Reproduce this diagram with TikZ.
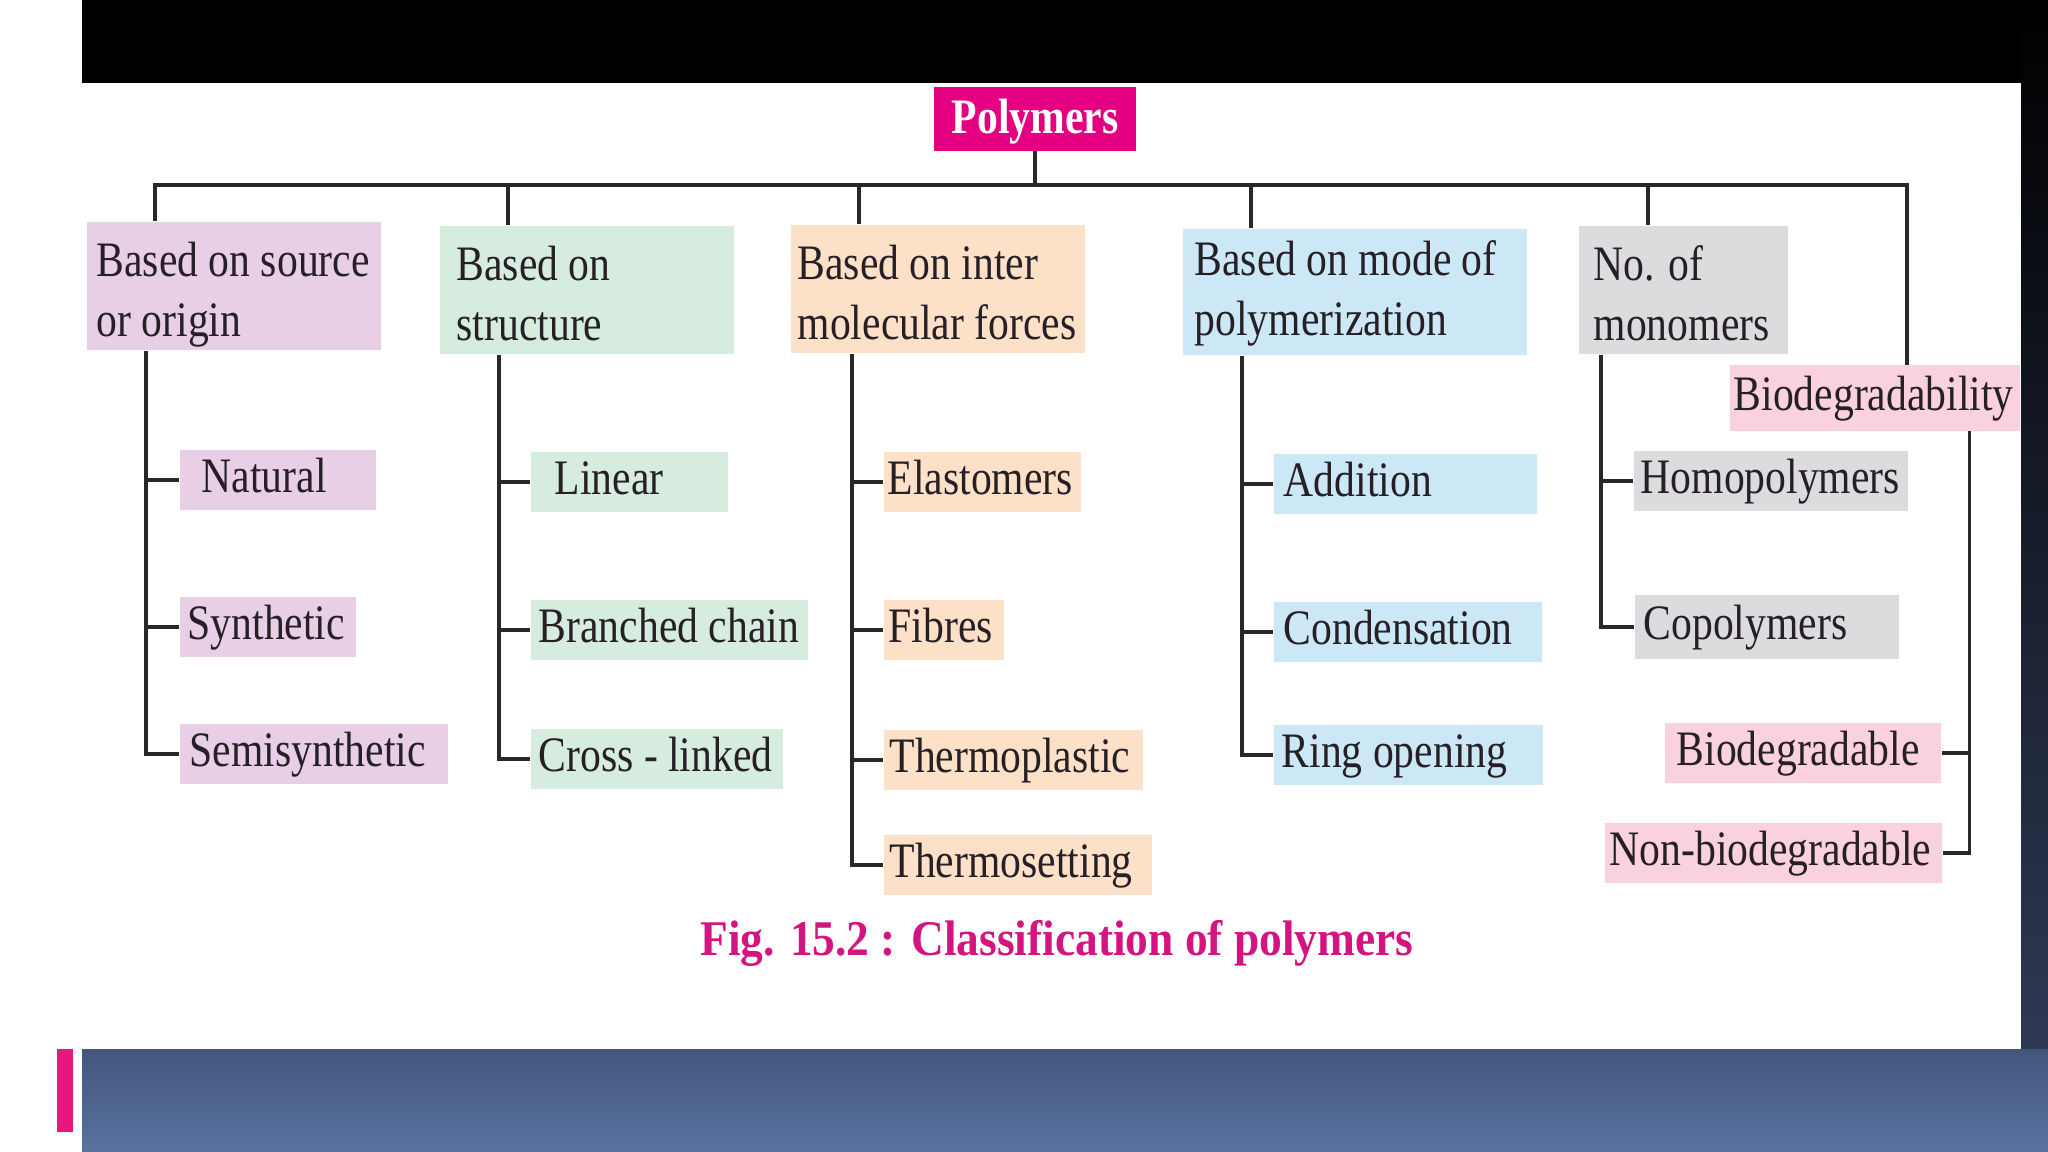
\documentclass[tikz,border=0pt]{standalone}
\usepackage{fontspec}
\setmainfont{Liberation Serif}[FakeStretch=0.84]
\newfontfamily\capfont{Liberation Serif}[FakeStretch=0.91]

\definecolor{polyfill}{RGB}{228,0,128}
\definecolor{srcfill}{RGB}{232,207,230}
\definecolor{strfill}{RGB}{214,236,222}
\definecolor{imffill}{RGB}{253,224,200}
\definecolor{modefill}{RGB}{204,232,246}
\definecolor{monofill}{RGB}{220,220,222}
\definecolor{biofill}{RGB}{250,210,222}
\definecolor{inkgray}{RGB}{38,32,38}
\definecolor{linegray}{RGB}{40,40,40}
\definecolor{capcolor}{RGB}{212,20,128}
\definecolor{bandtop}{RGB}{67,86,124}
\definecolor{bandbottom}{RGB}{88,114,162}
\definecolor{stripnavy}{RGB}{50,62,92}
\definecolor{barpink}{RGB}{233,22,125}

\begin{document}
\begin{tikzpicture}[x=0.01cm, y=-0.01cm,
  font=\fontsize{14.1}{17.1}\selectfont, text=inkgray,
  head/.style={fill=#1, anchor=west, align=flush left, inner ysep=0pt, minimum height=1.28cm,
    text height=10pt, text depth=15.6pt},
  leaf/.style={fill=#1, anchor=west, align=flush left, inner ysep=0pt, minimum height=0.54cm,
    text height=12pt, text depth=5pt},
  link/.style={draw=linegray, line width=1pt}]

\useasboundingbox (0,0) rectangle (2048,1152);
\fill[white] (0,0) rectangle (2048,1152);
\fill[black] (82,0) rectangle (2048,83);
\shade[top color=black, middle color=black, bottom color=stripnavy] (2021,0) rectangle (2048,1152);
\shade[top color=bandtop, bottom color=bandbottom] (82,1049) rectangle (2048,1152);
\fill[barpink] (57,1049) rectangle (73,1132);

\node[fill=polyfill, text=white, font=\fontsize{14.1}{17.1}\selectfont\bfseries, minimum width=2.02cm,
  minimum height=0.63cm, inner sep=0pt, text height=12pt, text depth=4pt] (poly) at (1035,119) {Polymers};

\node[head=srcfill, inner xsep=0.10cm, text width=2.74cm] (src) at (86,286) {Based on source\\or origin};
\node[head=strfill, inner xsep=0.17cm, text width=2.60cm] (str) at (439,290) {Based on\\structure};
\node[head=imffill, inner xsep=0.07cm, text width=2.80cm] (imf) at (790,289) {Based on inter\\molecular forces};
\node[head=modefill, inner xsep=0.12cm, text width=3.20cm, minimum height=1.26cm, text depth=19.5pt] (mode) at (1182,292) {Based on mode of\\polymerization};
\node[head=monofill, inner xsep=0.15cm, text width=1.79cm] (mono) at (1578,290) {No. of\\monomers};
\node[head=biofill, inner xsep=0.04cm, text width=2.82cm, minimum height=0.65cm, text height=12pt, text depth=5pt] (bio) at (1729,398) {Biodegradability};

\node[leaf=srcfill, inner xsep=0.22cm, text width=1.52cm] (nat) at (179,480) {Natural};
\node[leaf=srcfill, inner xsep=0.08cm, text width=1.60cm, minimum height=0.52cm] (syn) at (179,627) {Synthetic};
\node[leaf=srcfill, inner xsep=0.10cm, text width=2.48cm] (semi) at (179,754) {Semisynthetic};

\node[leaf=strfill, inner xsep=0.24cm, text width=1.49cm, minimum height=0.53cm] (lin) at (530,482) {Linear};
\node[leaf=strfill, inner xsep=0.08cm, text width=2.61cm] (bra) at (530,630) {Branched chain};
\node[leaf=strfill, inner xsep=0.08cm, text width=2.36cm] (cro) at (530,759) {Cross - linked};

\node[leaf=imffill, inner xsep=0.04cm, text width=1.89cm, minimum height=0.53cm] (ela) at (883,482) {Elastomers};
\node[leaf=imffill, inner xsep=0.05cm, text width=1.10cm, minimum height=0.53cm] (fib) at (883,630) {Fibres};
\node[leaf=imffill, inner xsep=0.06cm, text width=2.47cm] (tpl) at (883,760) {Thermoplastic};
\node[leaf=imffill, inner xsep=0.06cm, text width=2.56cm, minimum height=0.57cm] (tst) at (883,865) {Thermosetting};

\node[leaf=modefill, inner xsep=0.10cm, text width=2.43cm, minimum height=0.51cm] (add) at (1273,484) {Addition};
\node[leaf=modefill, inner xsep=0.10cm, text width=2.48cm, minimum height=0.55cm] (con) at (1273,632) {Condensation};
\node[leaf=modefill, inner xsep=0.08cm, text width=2.53cm] (ring) at (1273,755) {Ring opening};

\node[leaf=monofill, inner xsep=0.07cm, text width=2.60cm] (homo) at (1633,481) {Homopolymers};
\node[leaf=monofill, inner xsep=0.09cm, text width=2.46cm, minimum height=0.64cm] (copo) at (1634,627) {Copolymers};

\node[leaf=biofill, inner xsep=0.12cm, text width=2.52cm] (biod) at (1664,753) {Biodegradable};
\node[leaf=biofill, inner xsep=0.05cm, text width=3.27cm, minimum height=0.51cm] (nbio) at (1604,853) {Non-biodegradable};

\node[text=capcolor, font=\fontsize{14.2}{17}\capfont\bfseries] (cap) at (1057,943) {Fig. 15.2 : Classification of polymers};

\coordinate (b1) at (155,185);
\coordinate (b2) at (508,185);
\coordinate (b3) at (859,185);
\coordinate (b4) at (1251,185);
\coordinate (b5) at (1648,185);
\coordinate (b6) at (1907,185);

\draw[link] (b1 |- src.north) -- (b1) -- (b6) -- (b6 |- bio.north);
\draw[link] (poly.south) -- (poly.south |- b1);
\draw[link] (b2) -- (b2 |- str.north);
\draw[link] (b3) -- (b3 |- imf.north);
\draw[link] (b4) -- (b4 |- mode.north);
\draw[link] (b5) -- (b5 |- mono.north);

\coordinate (t1) at ([xshift=0.60cm]src.south west);
\coordinate (t2) at ([xshift=0.60cm]str.south west);
\coordinate (t3) at ([xshift=0.62cm]imf.south west);
\coordinate (t4) at ([xshift=0.60cm]mode.south west);
\coordinate (t5) at ([xshift=0.23cm]mono.south west);
\coordinate (t6) at ([xshift=-0.51cm]bio.south east);

\draw[link] (t1) |- (semi.west);
\draw[link] (t1 |- nat.west) -- (nat.west);
\draw[link] (t1 |- syn.west) -- (syn.west);

\draw[link] (t2) |- (cro.west);
\draw[link] (t2 |- lin.west) -- (lin.west);
\draw[link] (t2 |- bra.west) -- (bra.west);

\draw[link] (t3) |- (tst.west);
\draw[link] (t3 |- ela.west) -- (ela.west);
\draw[link] (t3 |- fib.west) -- (fib.west);
\draw[link] (t3 |- tpl.west) -- (tpl.west);

\draw[link] (t4) |- (ring.west);
\draw[link] (t4 |- add.west) -- (add.west);
\draw[link] (t4 |- con.west) -- (con.west);

\draw[link] (t5) |- (copo.west);
\draw[link] (t5 |- homo.west) -- (homo.west);

\draw[link] (t6) |- (nbio.east);
\draw[link] (t6 |- biod.east) -- (biod.east);

\end{tikzpicture}
\end{document}
